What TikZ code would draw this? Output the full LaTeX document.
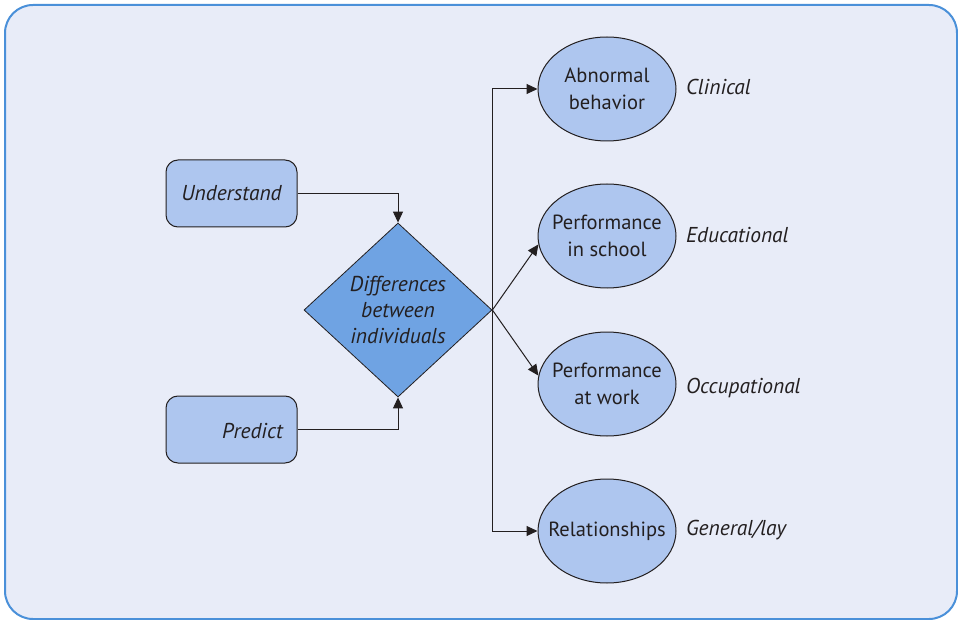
\documentclass[tikz,border=0pt]{standalone}
\usepackage{fontspec}
\setmainfont{PT Sans}
\usetikzlibrary{shapes.geometric,arrows.meta}
\definecolor{bgfill}{HTML}{E8ECF8}
\definecolor{bgline}{HTML}{4A90D9}
\definecolor{boxfill}{HTML}{AEC6EF}
\definecolor{diafill}{HTML}{6FA3E3}
\definecolor{ink}{HTML}{231F20}
\tikzset{
  sqbox/.style={draw=ink, line width=1pt, fill=boxfill, rounded corners=12pt, minimum width=131pt, minimum height=67pt, inner sep=0pt},
  oval/.style={ellipse, draw=ink, line width=1pt, fill=boxfill, minimum width=138pt, minimum height=104pt, inner sep=0pt},
  ovtext/.style={align=center, inner sep=0pt, text=ink, font=\fontsize{20.5pt}{27pt}\selectfont},
  dia/.style={diamond, draw=ink, line width=0.8pt, fill=diafill, minimum width=188pt, minimum height=174pt, inner sep=0pt, aspect=1.08},
  itext/.style={align=center, inner sep=0pt, text=ink, font=\fontsize{21.5pt}{26pt}\selectfont\itshape},
  lbl/.style={anchor=west, inner sep=0pt, text=ink, font=\fontsize{21.5pt}{26pt}\selectfont\itshape},
  conn/.style={draw=ink, line width=1pt},
  arr/.style={conn, -{Triangle[length=11pt,width=10pt]}},
}
\begin{document}
\begin{tikzpicture}[x=1pt,y=-1pt]
\useasboundingbox (0,0) rectangle (958,620);
\draw[bgline, fill=bgfill, line width=2pt, rounded corners=28pt] (5,5) rectangle (957,619);
\node[sqbox] (und) at (231.5,193.5) {};
\node[itext] (undT) at (und.center) {Understand};
\node[sqbox] (pre) at (231.5,429.5) {};
\node[itext, anchor=east] (preT) at (283,431) {Predict};
\node[dia] (dif) at (398,310) {};
\node[itext] (difT) at (dif.center) {Differences\\between\\individuals};
\node[oval] (abn) at (607,89) {};
\node[ovtext] (abnT) at (abn.center) {Abnormal\\behavior};
\node[oval] (sch) at (607,236) {};
\node[ovtext] (schT) at (sch.center) {Performance\\in school};
\node[oval] (wrk) at (607,384) {};
\node[ovtext] (wrkT) at (wrk.center) {Performance\\at work};
\node[oval] (rel) at (607,531) {};
\node[ovtext] (relT) at (rel.center) {Relationships};
\node[lbl] (l1) at (686,87) {Clinical};
\node[lbl] (l2) at (686,235) {Educational};
\node[lbl] (l3) at (686,388) {Occupational};
\node[lbl] (l4) at (686,530) {General/lay};
\draw[arr] (und.east) -| (dif.north);
\draw[arr] (pre.east) -| (dif.south);
\coordinate (hub) at (dif.east);
\draw[arr] (hub) |- (abn.west);
\draw[arr] (hub) |- (rel.west);
\draw[arr] (hub) -- (sch.187);
\draw[arr] (hub) -- (wrk.173);
\end{tikzpicture}
\end{document}
